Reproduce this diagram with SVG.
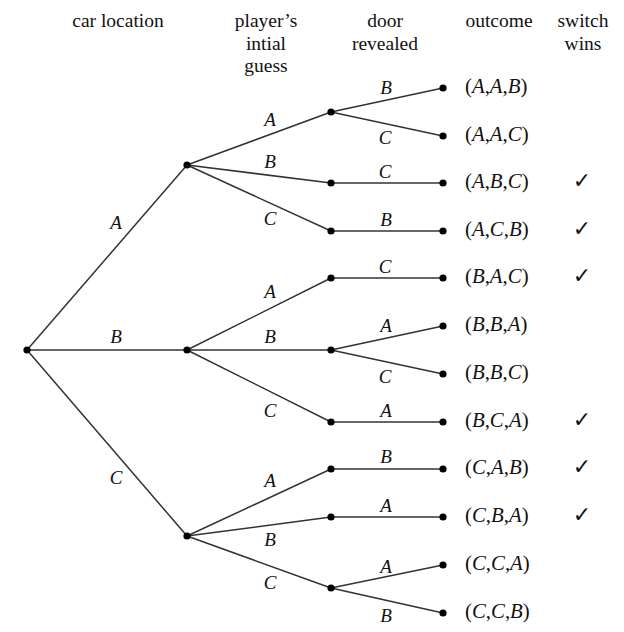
<svg xmlns="http://www.w3.org/2000/svg" width="624" height="632" viewBox="0 0 624 632" font-family="Liberation Serif, Times New Roman, serif">
<style>
text{font-family:"Liberation Serif","Times New Roman","DejaVu Serif",serif}
.hd{font-size:19.5px;fill:#111;text-anchor:middle}
.el{font-size:19px;font-style:italic;fill:#111;text-anchor:middle}
.oc{font-size:20.8px;fill:#111}
.oc tspan.i{font-style:italic}
text.ck{font-family:"DejaVu Sans",sans-serif;font-size:22px;font-weight:bold;fill:#111;text-anchor:middle}
.e{stroke:#333;stroke-width:1.5;fill:none}
.d{fill:#000}
</style>
<rect width="624" height="632" fill="#fff"/>
<g id="headers">
<text class="hd" x="118" y="27">car location</text>
<text class="hd" x="266" y="27">player’s</text>
<text class="hd" x="266" y="49.5">intial</text>
<text class="hd" x="266" y="72">guess</text>
<text class="hd" x="385" y="27">door</text>
<text class="hd" x="385" y="49.5">revealed</text>
<text class="hd" x="499" y="27">outcome</text>
<text class="hd" x="583" y="27">switch</text>
<text class="hd" x="583" y="49.5">wins</text>
</g>
<g id="connectors">
<line class="e" x1="27" y1="350" x2="187" y2="165"/>
<line class="e" x1="27" y1="350" x2="187" y2="350"/>
<line class="e" x1="27" y1="350" x2="187" y2="536"/>
<line class="e" x1="187" y1="165" x2="331" y2="112"/>
<line class="e" x1="187" y1="165" x2="331" y2="183"/>
<line class="e" x1="187" y1="165" x2="331" y2="231"/>
<line class="e" x1="187" y1="350" x2="331" y2="278"/>
<line class="e" x1="187" y1="350" x2="331" y2="350"/>
<line class="e" x1="187" y1="350" x2="331" y2="422"/>
<line class="e" x1="187" y1="536" x2="331" y2="469"/>
<line class="e" x1="187" y1="536" x2="331" y2="517"/>
<line class="e" x1="187" y1="536" x2="331" y2="588"/>
<line class="e" x1="331" y1="112" x2="443" y2="88"/>
<line class="e" x1="331" y1="112" x2="443" y2="136"/>
<line class="e" x1="331" y1="183" x2="443" y2="183"/>
<line class="e" x1="331" y1="231" x2="443" y2="231"/>
<line class="e" x1="331" y1="278" x2="443" y2="278"/>
<line class="e" x1="331" y1="350" x2="443" y2="326"/>
<line class="e" x1="331" y1="350" x2="443" y2="374"/>
<line class="e" x1="331" y1="422" x2="443" y2="422"/>
<line class="e" x1="331" y1="469" x2="443" y2="469"/>
<line class="e" x1="331" y1="517" x2="443" y2="517"/>
<line class="e" x1="331" y1="588" x2="443" y2="565"/>
<line class="e" x1="331" y1="588" x2="443" y2="613"/>
</g>
<g id="edge-labels">
<text class="el" x="116" y="229">A</text>
<text class="el" x="116" y="343">B</text>
<text class="el" x="116" y="484">C</text>
<text class="el" x="270" y="126">A</text>
<text class="el" x="270" y="168">B</text>
<text class="el" x="270" y="225">C</text>
<text class="el" x="270" y="298">A</text>
<text class="el" x="270" y="343">B</text>
<text class="el" x="270" y="417">C</text>
<text class="el" x="270" y="487">A</text>
<text class="el" x="270" y="546">B</text>
<text class="el" x="270" y="589">C</text>
<text class="el" x="386" y="94">B</text>
<text class="el" x="385" y="144">C</text>
<text class="el" x="385" y="178">C</text>
<text class="el" x="386" y="226">B</text>
<text class="el" x="385" y="273">C</text>
<text class="el" x="386" y="332">A</text>
<text class="el" x="385" y="383">C</text>
<text class="el" x="386" y="417">A</text>
<text class="el" x="386" y="463">B</text>
<text class="el" x="386" y="512">A</text>
<text class="el" x="386" y="573">A</text>
<text class="el" x="386" y="622">B</text>
</g>
<g id="root"><circle class="d" cx="27" cy="350" r="3.6"/></g>
<g id="n-A"><circle class="d" cx="187" cy="165" r="3.6"/></g>
<g id="n-B"><circle class="d" cx="187" cy="350" r="3.6"/></g>
<g id="n-C"><circle class="d" cx="187" cy="536" r="3.6"/></g>
<g id="n-AA"><circle class="d" cx="331" cy="112" r="3.6"/></g>
<g id="n-AB"><circle class="d" cx="331" cy="183" r="3.6"/></g>
<g id="n-AC"><circle class="d" cx="331" cy="231" r="3.6"/></g>
<g id="n-BA"><circle class="d" cx="331" cy="278" r="3.6"/></g>
<g id="n-BB"><circle class="d" cx="331" cy="350" r="3.6"/></g>
<g id="n-BC"><circle class="d" cx="331" cy="422" r="3.6"/></g>
<g id="n-CA"><circle class="d" cx="331" cy="469" r="3.6"/></g>
<g id="n-CB"><circle class="d" cx="331" cy="517" r="3.6"/></g>
<g id="n-CC"><circle class="d" cx="331" cy="588" r="3.6"/></g>
<g id="leaf-AAB"><circle class="d" cx="443" cy="88" r="3.6"/><text class="oc" x="465" y="93">(<tspan class="i">A</tspan>,<tspan class="i">A</tspan>,<tspan class="i">B</tspan>)</text></g>
<g id="leaf-AAC"><circle class="d" cx="443" cy="136" r="3.6"/><text class="oc" x="465" y="141">(<tspan class="i">A</tspan>,<tspan class="i">A</tspan>,<tspan class="i">C</tspan>)</text></g>
<g id="leaf-ABC"><circle class="d" cx="443" cy="183" r="3.6"/><text class="oc" x="465" y="188">(<tspan class="i">A</tspan>,<tspan class="i">B</tspan>,<tspan class="i">C</tspan>)</text><text class="ck" x="582" y="188">✓</text></g>
<g id="leaf-ACB"><circle class="d" cx="443" cy="231" r="3.6"/><text class="oc" x="465" y="236">(<tspan class="i">A</tspan>,<tspan class="i">C</tspan>,<tspan class="i">B</tspan>)</text><text class="ck" x="582" y="236">✓</text></g>
<g id="leaf-BAC"><circle class="d" cx="443" cy="278" r="3.6"/><text class="oc" x="465" y="283">(<tspan class="i">B</tspan>,<tspan class="i">A</tspan>,<tspan class="i">C</tspan>)</text><text class="ck" x="582" y="283">✓</text></g>
<g id="leaf-BBA"><circle class="d" cx="443" cy="326" r="3.6"/><text class="oc" x="465" y="331">(<tspan class="i">B</tspan>,<tspan class="i">B</tspan>,<tspan class="i">A</tspan>)</text></g>
<g id="leaf-BBC"><circle class="d" cx="443" cy="374" r="3.6"/><text class="oc" x="465" y="379">(<tspan class="i">B</tspan>,<tspan class="i">B</tspan>,<tspan class="i">C</tspan>)</text></g>
<g id="leaf-BCA"><circle class="d" cx="443" cy="422" r="3.6"/><text class="oc" x="465" y="427">(<tspan class="i">B</tspan>,<tspan class="i">C</tspan>,<tspan class="i">A</tspan>)</text><text class="ck" x="582" y="427">✓</text></g>
<g id="leaf-CAB"><circle class="d" cx="443" cy="469" r="3.6"/><text class="oc" x="465" y="474">(<tspan class="i">C</tspan>,<tspan class="i">A</tspan>,<tspan class="i">B</tspan>)</text><text class="ck" x="582" y="474">✓</text></g>
<g id="leaf-CBA"><circle class="d" cx="443" cy="517" r="3.6"/><text class="oc" x="465" y="522">(<tspan class="i">C</tspan>,<tspan class="i">B</tspan>,<tspan class="i">A</tspan>)</text><text class="ck" x="582" y="522">✓</text></g>
<g id="leaf-CCA"><circle class="d" cx="443" cy="565" r="3.6"/><text class="oc" x="465" y="570">(<tspan class="i">C</tspan>,<tspan class="i">C</tspan>,<tspan class="i">A</tspan>)</text></g>
<g id="leaf-CCB"><circle class="d" cx="443" cy="613" r="3.6"/><text class="oc" x="465" y="618">(<tspan class="i">C</tspan>,<tspan class="i">C</tspan>,<tspan class="i">B</tspan>)</text></g>
</svg>
